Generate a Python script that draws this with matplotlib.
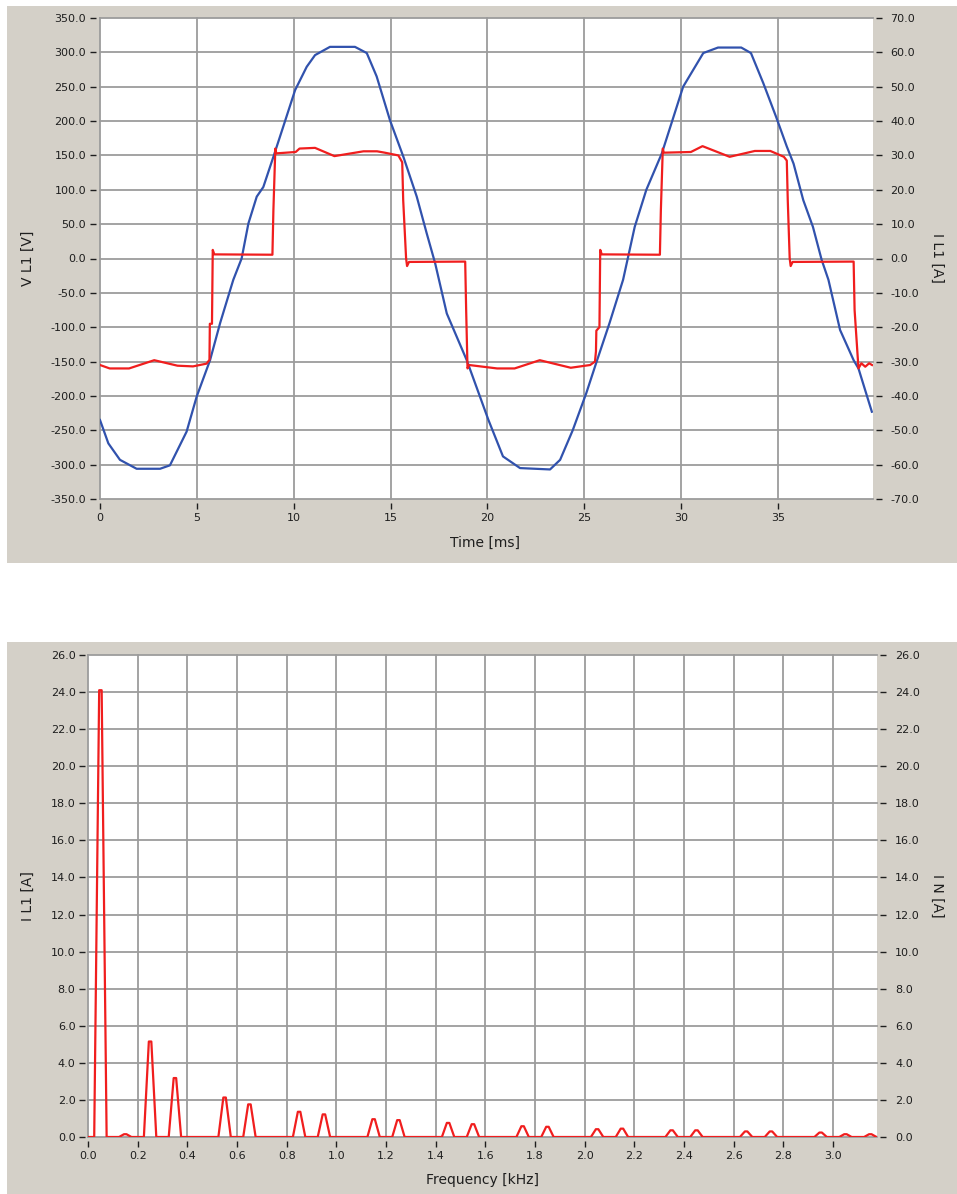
import matplotlib
matplotlib.use('Agg')
import matplotlib.pyplot as plt
from matplotlib.patches import Rectangle
from matplotlib.ticker import FormatStrFormatter
import numpy as np

# ---- data ----
# voltage V L1 [V] vs time [ms]
t_volt = [0, 0.43, 1.03, 1.89, 3.1, 3.61, 4.47, 4.99, 5.68, 6.2, 6.88, 7.31, 7.66,
          8.09, 8.43, 8.95, 9.46, 10.07, 10.67, 11.1, 11.87, 13.16, 13.77, 14.28,
          14.97, 15.66, 16.35, 16.86, 17.3, 17.9, 18.93, 20.05, 20.8, 21.68, 23.23,
          23.75, 24.4, 25.1, 25.6, 26.3, 27.0, 27.6, 28.2, 29.0, 29.5, 30.1, 31.14,
          31.9, 33.1, 33.6, 34.24, 34.9, 35.45, 35.8, 36.3, 36.8, 37.25, 37.6, 38.2,
          38.9, 39.15, 39.84]
v_l1 = [-235, -269, -293, -306, -306, -301, -252, -201, -148, -94, -31, 0, 51,
        90, 104, 148, 192, 245, 279, 296, 308, 308, 299, 265,
        201, 148, 90, 37, -7, -80, -148, -235, -288, -305, -307,
        -293, -250, -196, -153, -94, -31, 46, 100, 153, 197, 250, 299,
        307, 307, 299, 255, 206, 163, 138, 85, 46, -2, -31, -104,
        -148, -160, -223]

# current I L1 [A] vs time [ms]
t_curr = [0, 0.5, 1.5, 2.8, 4.0, 4.8, 5.5, 5.65, 5.67, 5.78, 5.82, 5.9, 8.9,
          8.95, 9.0, 9.05, 9.1, 10.1, 10.3, 11.1, 12.1, 13.6, 14.3, 14.7, 15.4,
          15.6, 15.65, 15.8, 15.85, 15.95, 18.85, 18.9, 18.97, 19.05, 20.5, 21.4,
          22.7, 24.3, 25.3, 25.55, 25.6, 25.62, 25.78, 25.82, 25.9, 28.9, 28.95,
          29.0, 29.05, 29.1, 30.5, 31.1, 32.5, 33.8, 34.6, 35.3, 35.45, 35.5,
          35.6, 35.65, 35.75, 38.9, 38.95, 39.15, 39.3, 39.5, 39.7, 39.85]
i_l1 = [-31, -32, -32, -29.6, -31.2, -31.4, -30.6, -29.5, -19, -19, 2.5, 1.2, 1.1,
        14, 23, 32, 30.6, 31, 32, 32.2, 29.8, 31.2, 31.2, 30.8, 30,
        28, 17, 0, -2.2, -1, -0.9, -15, -32, -31, -32, -32,
        -29.6, -31.8, -31, -30, -27, -21, -20, 2.5, 1.2, 1.1, 14,
        23, 32, 30.8, 31, 32.7, 29.6, 31.3, 31.3, 29.6, 28.5, 17,
        0, -2.2, -1, -0.9, -15, -32, -30.5, -31.5, -30.5, -31]

# harmonic spectrum I L1 [A] vs frequency [kHz]
f_harm = [0.05, 0.15, 0.25, 0.35, 0.55, 0.65, 0.85, 0.95, 1.15, 1.25, 1.45, 1.55,
          1.75, 1.85, 2.05, 2.15, 2.35, 2.45, 2.65, 2.75, 2.95, 3.05, 3.15]
a_harm = [24.1, 0.15, 5.15, 3.18, 2.13, 1.76, 1.36, 1.22, 0.96, 0.91, 0.76, 0.69,
          0.58, 0.55, 0.42, 0.45, 0.36, 0.36, 0.3, 0.3, 0.24, 0.15, 0.15]

W, H = 957, 1194
BG = '#d4d0c8'
GRID = '#9c9c9c'
TXT = '#1e1e1e'
BLUE = '#3152ad'
RED = '#f01e1e'

fig = plt.figure(figsize=(W / 100, H / 100), dpi=100)

# background layer for the grey panels and white plot areas
bg = fig.add_axes([0, 0, 1, 1], zorder=-10)
bg.set_xlim(0, W)
bg.set_ylim(H, 0)
bg.axis('off')


def fx(px):
    return px / W


def fy(py):
    return 1 - py / H


def rect(x0, y0, x1, y1, color):
    bg.add_patch(Rectangle((x0, y0), x1 - x0, y1 - y0, facecolor=color, edgecolor='none'))


def make_axes(x0, y0, x1, y1):
    rect(x0, y0, x1, y1, 'white')
    a = fig.add_axes([fx(x0), fy(y1), fx(x1) - fx(x0), fy(y0) - fy(y1)])
    a.patch.set_visible(False)
    return a


def style(ax, ax2, xoff, lpad, rpad):
    for a in (ax, ax2):
        for s in a.spines.values():
            s.set_visible(False)
    ax.spines['left'].set_position(('outward', xoff))
    ax.spines['bottom'].set_position(('outward', 3))
    ax2.spines['right'].set_position(('outward', 2.5))
    ax.tick_params(axis='both', direction='out', length=4.5, width=1, color=TXT,
                   labelsize=8, labelcolor=TXT)
    ax.tick_params(axis='y', pad=lpad)
    ax.tick_params(axis='x', pad=2.5)
    ax2.tick_params(axis='y', direction='out', length=4.5, width=1, color=TXT,
                    labelsize=8, labelcolor=TXT, pad=rpad)
    ax.grid(True, color=GRID, linewidth=1.3)
    ax.set_axisbelow(True)
    for ln in ax.get_xgridlines() + ax.get_ygridlines():
        ln.set_clip_on(False)
    ax2.patch.set_visible(False)


# ---------------- top chart: waveforms ----------------
rect(7, 6, 957, 563, BG)
ax = make_axes(100, 18, 873, 499)
ax.plot(t_volt, v_l1, color=BLUE, linewidth=1.6)
ax.set_xlim(0, 39.9)
ax.set_ylim(-350, 350)
ax.set_xticks(np.arange(0, 40, 5))
ax.set_yticks(np.arange(-350, 351, 50))
ax.yaxis.set_major_formatter(FormatStrFormatter('%.1f'))

ax2 = ax.twinx()
ax2.plot(t_curr, i_l1, color=RED, linewidth=1.6)
ax2.set_ylim(-70, 70)
ax2.set_yticks(np.arange(-70, 71, 10))
ax2.yaxis.set_major_formatter(FormatStrFormatter('%.1f'))
style(ax, ax2, 3, 2.5, 5.5)

fig.text(fx(485), fy(543), 'Time [ms]', ha='center', va='center', fontsize=10, color=TXT)
fig.text(fx(28), fy(258), 'V L1 [V]', ha='center', va='center', rotation=90,
         fontsize=10, color=TXT)
fig.text(fx(937), fy(258), 'I L1 [A]', ha='center', va='center', rotation=270,
         fontsize=10, color=TXT)

# ---------------- bottom chart: spectrum ----------------
spec_f = [0.0]
spec_a = [0.0]
for f, a in zip(f_harm, a_harm):
    spec_f += [f - 0.025, f - 0.005, f + 0.005, f + 0.025]
    spec_a += [0, a, a, 0]
spec_f.append(3.18)
spec_a.append(0.0)

rect(7, 642, 957, 1194, BG)
bx = make_axes(88, 655, 877, 1137)
bx.plot(spec_f, spec_a, color=RED, linewidth=1.6)
bx.set_xlim(0, 3.177)
bx.set_ylim(0, 26)
bx.set_xticks(np.arange(0, 3.01, 0.2))
bx.set_yticks(np.arange(0, 26.1, 2))
bx.xaxis.set_major_formatter(FormatStrFormatter('%.1f'))
bx.yaxis.set_major_formatter(FormatStrFormatter('%.1f'))

bx2 = bx.twinx()
bx2.set_ylim(0, 26)
bx2.set_yticks(np.arange(0, 26.1, 2))
bx2.yaxis.set_major_formatter(FormatStrFormatter('%.1f'))
style(bx, bx2, 2, 2.5, 6)

fig.text(fx(483), fy(1180), 'Frequency [kHz]', ha='center', va='center', fontsize=10,
         color=TXT)
fig.text(fx(28), fy(896), 'I L1 [A]', ha='center', va='center', rotation=90,
         fontsize=10, color=TXT)
fig.text(fx(937), fy(896), 'I N [A]', ha='center', va='center', rotation=270,
         fontsize=10, color=TXT)

fig.savefig('out.png', dpi=100)
